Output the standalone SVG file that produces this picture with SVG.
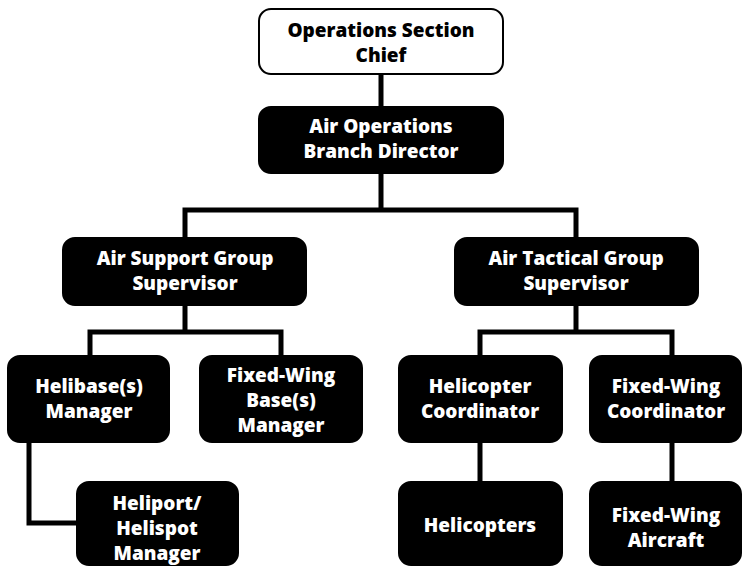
<svg xmlns="http://www.w3.org/2000/svg" width="744" height="567" viewBox="0 0 744 567">
<style>
.box{fill:#000;stroke:#000;stroke-width:2}
.wbox{fill:#fff;stroke:#000;stroke-width:2}
.t{font-family:"Open Sans","Noto Sans","DejaVu Sans",sans-serif;font-weight:800;font-size:19px;text-anchor:middle;fill:#fff}
.tb{fill:#000}
.c{fill:none;stroke:#000;stroke-width:5;stroke-linejoin:miter}
</style>
<rect width="744" height="567" fill="#fff"/>
<g id="connectors">
<path class="c" d="M381 74V107"/>
<path class="c" d="M381 173V210M185 237V210H576V237"/>
<path class="c" d="M185 305V332M90 356V332H281V356"/>
<path class="c" d="M576 305V332M480 356V332H672V356"/>
<path class="c" d="M29 442V523H77"/>
<path class="c" d="M480 442V482"/>
<path class="c" d="M672 442V482"/>
</g>
<g id="ops-chief"><rect class="wbox" x="259" y="9" width="244" height="65" rx="12"/><text class="t tb" x="381" y="37">Operations Section</text><text class="t tb" x="381" y="62">Chief</text></g>
<g id="air-ops"><rect class="box" x="259" y="107" width="244" height="66" rx="12"/><text class="t" x="381" y="133">Air Operations</text><text class="t" x="381" y="158">Branch Director</text></g>
<g id="air-support"><rect class="box" x="63" y="238" width="243" height="67" rx="12"/><text class="t" x="185" y="265">Air Support Group</text><text class="t" x="185" y="290">Supervisor</text></g>
<g id="air-tactical"><rect class="box" x="455" y="238" width="243" height="67" rx="12"/><text class="t" x="576" y="265">Air Tactical Group</text><text class="t" x="576" y="290">Supervisor</text></g>
<g id="helibase"><rect class="box" x="8" y="356" width="161" height="86" rx="12"/><text class="t" x="89" y="393">Helibase(s)</text><text class="t" x="89" y="418">Manager</text></g>
<g id="fw-base"><rect class="box" x="200" y="356" width="162" height="86" rx="12"/><text class="t" x="281" y="382">Fixed-Wing</text><text class="t" x="281" y="407">Base(s)</text><text class="t" x="281" y="432">Manager</text></g>
<g id="heli-coord"><rect class="box" x="399" y="356" width="163" height="86" rx="12"/><text class="t" x="480" y="393">Helicopter</text><text class="t" x="480" y="418">Coordinator</text></g>
<g id="fw-coord"><rect class="box" x="590" y="356" width="151" height="86" rx="12"/><text class="t" x="666" y="393">Fixed-Wing</text><text class="t" x="666" y="418">Coordinator</text></g>
<g id="heliport"><rect class="box" x="77" y="482" width="161" height="83" rx="12"/><text class="t" x="157" y="510">Heliport/</text><text class="t" x="157" y="535">Helispot</text><text class="t" x="157" y="560">Manager</text></g>
<g id="helicopters"><rect class="box" x="399" y="482" width="163" height="83" rx="12"/><text class="t" x="480" y="532">Helicopters</text></g>
<g id="fw-aircraft"><rect class="box" x="590" y="482" width="151" height="83" rx="12"/><text class="t" x="666" y="522">Fixed-Wing</text><text class="t" x="666" y="547">Aircraft</text></g>
</svg>
